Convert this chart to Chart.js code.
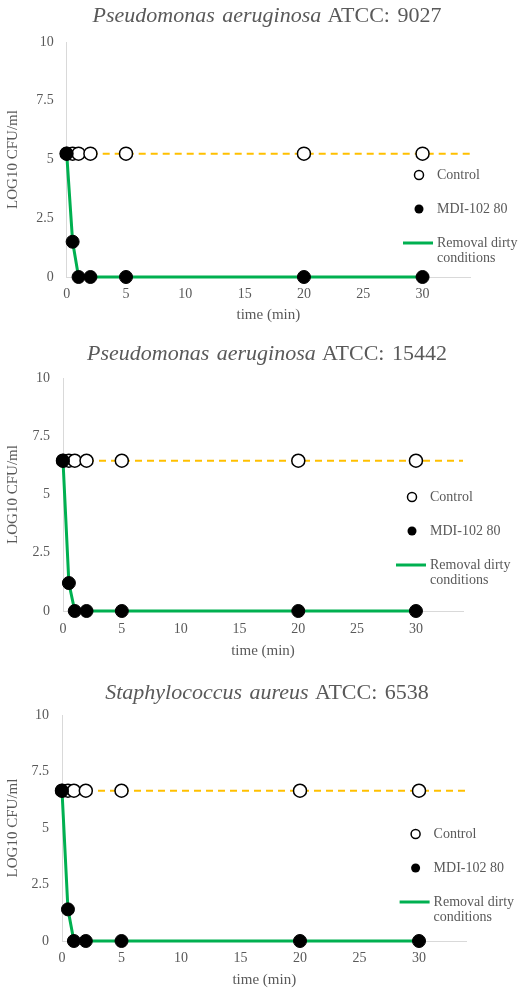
<!DOCTYPE html>
<html>
<head>
<meta charset="utf-8">
<script src="https://cdn.jsdelivr.net/npm/chart.js@4.4.1/dist/chart.umd.min.js"></script>
<style>
  body { margin: 0; background: #fff; width: 526px; height: 990px; overflow: hidden; }
  .panel { position: absolute; left: 0; width: 526px; height: 330px; }
  .panel h2 {
    position: absolute; left: 4px; width: 526px; margin: 0;
    text-align: center; font: normal 22px "Liberation Serif", serif;
    line-height: 22px; color: #595959; word-spacing: 2px;
  }
  .panel canvas { position: absolute; left: 0; top: 0; }
</style>
</head>
<body>
<div id="charts"></div>
<script>
// sampling times (min)
var times = [0, 0.5, 1, 2, 5, 20, 30];
var trendX = [0, 34];
var xTicks = [0, 5, 10, 15, 20, 25, 30];
var yTicks = [0, 2.5, 5, 7.5, 10];

var species = ["Pseudomonas aeruginosa", "Pseudomonas aeruginosa", "Staphylococcus aureus"];
var strains = ["ATCC: 9027", "ATCC: 15442", "ATCC: 6538"];

// log10 CFU/ml
var control9027 = [5.25, 5.25, 5.25, 5.25, 5.25, 5.25, 5.25];
var mdi9027 = [5.25, 1.5, 0, 0, 0, 0, 0];
var control15442 = [6.45, 6.45, 6.45, 6.45, 6.45, 6.45, 6.45];
var mdi15442 = [6.45, 1.2, 0, 0, 0, 0, 0];
var control6538 = [6.65, 6.65, 6.65, 6.65, 6.65, 6.65, 6.65];
var mdi6538 = [6.65, 1.4, 0, 0, 0, 0, 0];

var controls = [control9027, control15442, control6538];
var treated = [mdi9027, mdi15442, mdi6538];

// panel geometry (legendY is relative to the panel)
var panels = [
  { top: 0,   titleY: 4,  padTop: 42, left: 66.7, right: 56,   xh: 53, xTitlePad: 6, tickPad: 9,  legendY: 175 },
  { top: 330, titleY: 12, padTop: 48, left: 63,   right: 63,   xh: 49, xTitlePad: 0, tickPad: 10, legendY: 167 },
  { top: 660, titleY: 21, padTop: 55, left: 62,   right: 59.4, xh: 49, xTitlePad: 1, tickPad: 9,  legendY: 174 }
];

var grey = "#595959";
var axisGrey = "#d9d9d9";
var yellow = "#ffc000";
var green = "#00b050";
var serif = "'Liberation Serif', 'Times New Roman', serif";

function pts(xs, ys) {
  return xs.map(function (x, i) { return { x: x, y: ys[i] }; });
}

var sideLegend = {
  id: "sideLegend",
  afterDraw: function (chart) {
    var o = chart.options.plugins.sideLegend;
    var ctx = chart.ctx;
    var mx = chart.chartArea.right - 51;
    var y = o.y;
    var gap = 34;
    ctx.save();
    ctx.lineWidth = 1.5;
    ctx.strokeStyle = "#000";
    ctx.fillStyle = "#fff";
    ctx.beginPath();
    ctx.arc(mx, y, 4.5, 0, Math.PI * 2);
    ctx.fill();
    ctx.stroke();
    ctx.fillStyle = "#000";
    ctx.beginPath();
    ctx.arc(mx, y + gap, 4.5, 0, Math.PI * 2);
    ctx.fill();
    ctx.strokeStyle = green;
    ctx.lineWidth = 3;
    ctx.beginPath();
    ctx.moveTo(mx - 16, y + 2 * gap);
    ctx.lineTo(mx + 14, y + 2 * gap);
    ctx.stroke();
    ctx.fillStyle = grey;
    ctx.font = "14px " + serif;
    ctx.textBaseline = "middle";
    ctx.fillText(o.labels[0], mx + 18, y);
    ctx.fillText(o.labels[1], mx + 18, y + gap);
    ctx.fillText(o.labels[2][0], mx + 18, y + 2 * gap);
    ctx.fillText(o.labels[2][1], mx + 18, y + 2 * gap + 15);
    ctx.restore();
  }
};

var holder = document.getElementById("charts");

panels.forEach(function (p, i) {
  var div = document.createElement("div");
  div.className = "panel";
  div.style.top = p.top + "px";
  var canvas = document.createElement("canvas");
  canvas.width = 526;
  canvas.height = 330;
  canvas.style.width = "526px";
  canvas.style.height = "330px";
  div.appendChild(canvas);
  var h2 = document.createElement("h2");
  h2.style.top = p.titleY + "px";
  h2.innerHTML = "<i>" + species[i] + "</i> " + strains[i];
  div.appendChild(h2);
  holder.appendChild(div);

  new Chart(canvas.getContext("2d"), {
    type: "scatter",
    data: {
      datasets: [
        {
          label: "MDI-102 80",
          data: pts(times, treated[i]),
          showLine: false,
          pointRadius: 6.5,
          pointBackgroundColor: "#000",
          pointBorderColor: "#000",
          pointBorderWidth: 1,
          clip: false
        },
        {
          label: "Control",
          data: pts(times, controls[i]),
          showLine: false,
          pointRadius: 6.5,
          pointBackgroundColor: "#fff",
          pointBorderColor: "#000",
          pointBorderWidth: 1.5,
          clip: false
        },
        {
          label: "Removal dirty conditions",
          data: pts(times, treated[i]),
          showLine: true,
          borderColor: green,
          borderWidth: 3,
          pointRadius: 0,
          clip: false
        },
        {
          label: "Control trend",
          data: pts(trendX, [controls[i][0], controls[i][0]]),
          showLine: true,
          borderColor: yellow,
          borderWidth: 2,
          borderDash: [7, 5],
          pointRadius: 0,
          clip: false
        }
      ]
    },
    options: {
      responsive: false,
      animation: false,
      layout: { padding: { left: 0, right: p.right, top: p.padTop, bottom: 0 } },
      plugins: {
        legend: { display: false },
        tooltip: { enabled: false },
        sideLegend: {
          y: p.legendY,
          labels: ["Control", "MDI-102 80", ["Removal dirty", "conditions"]]
        }
      },
      scales: {
        x: {
          type: "linear",
          min: 0,
          max: 34,
          grid: { display: false, drawTicks: false },
          border: { color: axisGrey, width: 1 },
          afterBuildTicks: function (s) { s.ticks = xTicks.map(function (v) { return { value: v }; }); },
          afterFit: function (s) { s.height = p.xh; },
          ticks: {
            padding: p.tickPad,
            color: grey,
            font: { family: serif, size: 14 },
            maxRotation: 0,
            callback: function (v) { return String(v); }
          },
          title: {
            display: true,
            text: "time (min)",
            color: grey,
            font: { family: serif, size: 15 },
            padding: { top: 0, bottom: p.xTitlePad }
          }
        },
        y: {
          min: 0,
          max: 10,
          grid: { display: false, drawTicks: false },
          border: { color: axisGrey, width: 1 },
          afterBuildTicks: function (s) { s.ticks = yTicks.map(function (v) { return { value: v }; }); },
          afterFit: function (s) { s.width = p.left; },
          ticks: {
            padding: 13,
            color: grey,
            font: { family: serif, size: 14 },
            callback: function (v) { return String(v); }
          },
          title: {
            display: true,
            text: "LOG10 CFU/ml",
            color: grey,
            font: { family: serif, size: 15 },
            padding: { top: 4, bottom: 0 }
          }
        }
      }
    },
    plugins: [sideLegend]
  });
});
</script>
</body>
</html>
